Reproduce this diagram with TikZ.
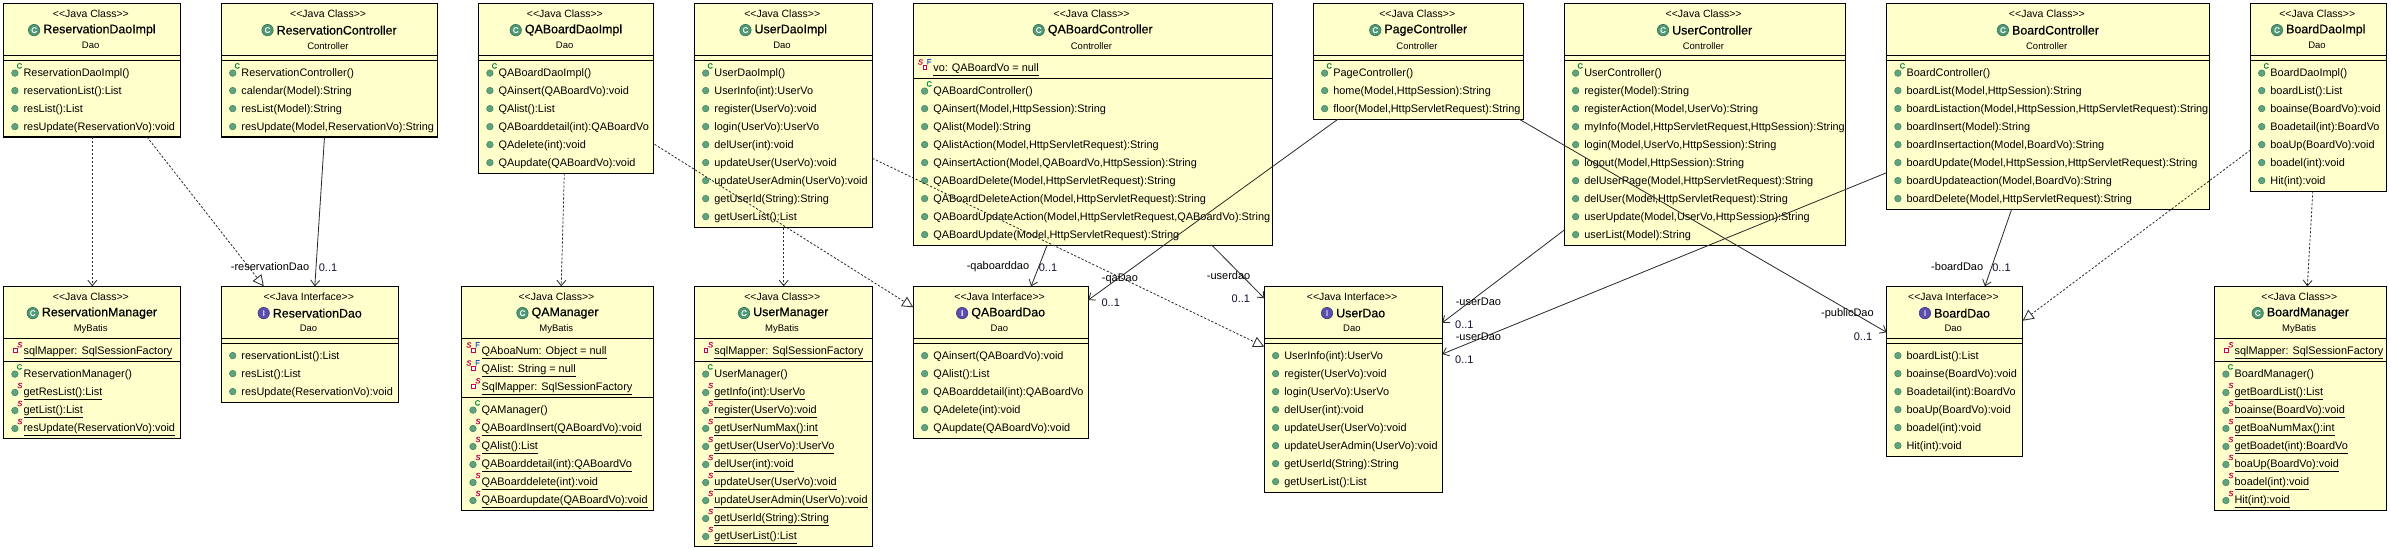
\documentclass[tikz,border=0pt]{standalone}
\usepackage{fontspec}
\setmainfont{Liberation Sans}
\newfontfamily\titlefont[FakeBold=0.6]{Liberation Sans}
\newfontfamily\markfont[FakeBold=0.5]{Liberation Sans}
\usetikzlibrary{arrows.meta}
\definecolor{boxfill}{HTML}{FFFFCC}
\definecolor{dotgreen}{HTML}{5FA37F}
\definecolor{dotedge}{HTML}{3F7F60}
\definecolor{crim}{HTML}{C8004B}
\definecolor{consgreen}{HTML}{00803C}
\definecolor{finalblue}{HTML}{2050C0}
\definecolor{iconc}{HTML}{4F9A76}
\definecolor{iconi}{HTML}{5A4FB0}
\definecolor{mult}{HTML}{101030}
\definecolor{cnnline}{HTML}{282828}
\tikzset{
  umlbox/.style={draw=black,line width=1.1pt,fill=boxfill,inner sep=0pt,outer sep=0pt,anchor=north west},
  sepline/.style={draw=black,line width=1.1pt},
  stereotxt/.style={font=\fontsize{10.5}{12}\selectfont,inner sep=0pt},
  pkgtxt/.style={font=\fontsize{9.5}{11}\selectfont,inner sep=0pt},
  titletxt/.style={font=\fontsize{12.4}{14}\titlefont,inner sep=0pt},
  rowtxt/.style={font=\fontsize{10.9}{13}\selectfont,inner sep=0pt,anchor=base west},
  marktxt/.style={font=\fontsize{7.5}{8}\markfont\itshape,inner sep=0pt},
  cnntxt/.style={font=\fontsize{11}{13}\selectfont,inner sep=0pt},
  multtxt/.style={cnntxt,text=mult},
  dep/.style={draw=cnnline,line width=0.8pt,dash pattern=on 2.2pt off 1.8pt,-{Straight Barb[length=5.5pt,width=9pt]}},
  real/.style={draw=cnnline,line width=0.8pt,dash pattern=on 2.2pt off 1.8pt,-{Triangle[fill=white,length=11pt,width=11pt]}},
  assoc/.style={draw=cnnline,line width=0.8pt,-{Straight Barb[length=5.5pt,width=9pt]}}
}
\newcount\rowno
\newcommand\ulbox[1]{\setbox0=\hbox{#1}\rlap{\rule[-4.5pt]{\wd0}{0.9pt}}\box0}
% id, left, top, right, bottom, stereotype, C|I, title, package
\newcommand\umlclass[9]{%
  \def\curx{#2}\def\curt{#3}\def\curr{#4}\def\curb{#5}\def\curid{#1}%
  \pgfmathsetmacro\curw{#4-#2}\pgfmathsetmacro\curh{#5-#3}%
  \pgfmathsetmacro\curc{(#2+#4)/2}%
  \node[umlbox,minimum width=\curw pt,minimum height=\curh pt] (#1) at (#2,#3) {};
  \node[stereotxt,name=#1-st] at (\curc-1.2,#3+10) {<\kern0pt<#6>\kern0pt>};
  \node[titletxt,name=#1-ti] at (\curc+7.4,#3+26.8) {#8};
  \node[pkgtxt,name=#1-pk] at (\curc-1.4,#3+42.4) {#9};
  \ifx#7C
    \fill[iconc,draw=iconc!70!black,line width=0.6pt] ([xshift=-9pt]#1-ti.west) circle [radius=5.7pt];
    \node[font=\fontsize{8}{9}\titlefont,text=white,inner sep=0pt,name=#1-ic] at ([xshift=-9pt]#1-ti.west) {C};
  \else
    \fill[iconi,draw=iconi!70!black,line width=0.6pt] ([xshift=-9pt]#1-ti.west) circle [radius=5.7pt];
    \node[font=\fontsize{8}{9}\titlefont,text=white,inner sep=0pt,name=#1-ic] at ([xshift=-9pt]#1-ti.west) {I};
  \fi
}
\newcommand\seps[2]{%
  \draw[sepline] (\curx,#1) -- (\curr,#1);
  \draw[sepline] (\curx,#2) -- (\curr,#2);
}
\newcommand\rowsat[1]{\xdef\cury{#1}}
\newcommand\nextrow{\pgfmathsetmacro\tmpy{\cury+18}\xdef\cury{\tmpy}\global\advance\rowno by 1 }
\newcommand\rowdot[1]{\fill[dotgreen,draw=dotedge,line width=0.5pt] (\curx+11.3,\cury+#1) circle [radius=3.3pt];}
\newcommand\rowtext[1]{\node[rowtxt,name=r\the\rowno] at (\curx+19.8,\cury+3.7) {#1};}
\newcommand\Mm[1]{\rowdot{0.3}\rowtext{#1}\nextrow}
\newcommand\Mc[1]{\rowdot{0.8}\rowtext{#1}\node[marktxt,text=consgreen,name=c\the\rowno] at (\curx+15.8,\cury-6.4) {\upshape C};\nextrow}
\newcommand\Ms[1]{\rowdot{1.2}\rowtext{\ulbox{#1}}\node[marktxt,text=crim,name=c\the\rowno] at (\curx+16.2,\cury-5.8) {S};\nextrow}
\newcommand\attrsq{\draw[crim,fill=white,line width=0.9pt] (\curx+10,\cury-1.7) rectangle (\curx+13.4,\cury+1.7);}
\newcommand\Ma[1]{\attrsq\rowtext{\ulbox{#1}}\node[marktxt,text=crim,name=c\the\rowno] at (\curx+16.2,\cury-5.5) {S};\nextrow}
\newcommand\Mf[1]{\attrsq\rowtext{\ulbox{#1}}\node[marktxt,text=crim,name=c\the\rowno] at (\curx+7.1,\cury-5.3) {S};\node[marktxt,text=finalblue,name=d\the\rowno] at (\curx+15.8,\cury-5.5) {\upshape F};\nextrow}
\begin{document}
\begin{tikzpicture}[x=1pt,y=-1pt]
\useasboundingbox (0,0) rectangle (2390,550);
\fill[white] (0,0) rectangle (2390,550);

% ---------- upper row
\umlclass{rdi}{3.6}{3.3}{180.6}{137}{Java Class}{C}{ReservationDaoImpl}{Dao}
\seps{55.5}{60.5}\rowsat{72.3}
\Mc{ReservationDaoImpl()}\Mm{reservationList():List}\Mm{resList():List}\Mm{resUpdate(ReservationVo):void}

\umlclass{rc}{221.4}{3.3}{437.2}{137}{Java Class}{C}{ReservationController}{Controller}
\seps{55.5}{60.5}\rowsat{72.3}
\Mc{ReservationController()}\Mm{calendar(Model):String}\Mm{resList(Model):String}\Mm{resUpdate(Model,ReservationVo):String}

\umlclass{qdi}{478.6}{3.3}{653.6}{173.5}{Java Class}{C}{QABoardDaoImpl}{Dao}
\seps{55.5}{60.5}\rowsat{72.3}
\Mc{QABoardDaoImpl()}\Mm{QAinsert(QABoardVo):void}\Mm{QAlist():List}\Mm{QABoarddetail(int):QABoardVo}\Mm{QAdelete(int):void}\Mm{QAupdate(QABoardVo):void}

\umlclass{udi}{694.4}{3.3}{872.4}{227.5}{Java Class}{C}{UserDaoImpl}{Dao}
\seps{55.5}{60.5}\rowsat{72.3}
\Mc{UserDaoImpl()}\Mm{UserInfo(int):UserVo}\Mm{register(UserVo):void}\Mm{login(UserVo):UserVo}\Mm{delUser(int):void}\Mm{updateUser(UserVo):void}\Mm{updateUserAdmin(UserVo):void}\Mm{getUserId(String):String}\Mm{getUserList():List}

\umlclass{qc}{913.3}{3.3}{1272.4}{245.5}{Java Class}{C}{QABoardController}{Controller}
\seps{55.5}{78.5}\rowsat{67.3}
\Mf{vo: QABoardVo = null}
\rowsat{90.3}
\Mc{QABoardController()}\Mm{QAinsert(Model,HttpSession):String}\Mm{QAlist(Model):String}\Mm{QAlistAction(Model,HttpServletRequest):String}\Mm{QAinsertAction(Model,QABoardVo,HttpSession):String}\Mm{QABoardDelete(Model,HttpServletRequest):String}\Mm{QABoardDeleteAction(Model,HttpServletRequest):String}\Mm{QABoardUpdateAction(Model,HttpServletRequest,QABoardVo):String}\Mm{QABoardUpdate(Model,HttpServletRequest):String}

\umlclass{pc}{1313.3}{3.3}{1523.5}{119.3}{Java Class}{C}{PageController}{Controller}
\seps{55.5}{60.5}\rowsat{72.3}
\Mc{PageController()}\Mm{home(Model,HttpSession):String}\Mm{floor(Model,HttpServletRequest):String}

\umlclass{uc}{1564.3}{3.3}{1845.3}{245.5}{Java Class}{C}{UserController}{Controller}
\seps{55.5}{60.5}\rowsat{72.3}
\Mc{UserController()}\Mm{register(Model):String}\Mm{registerAction(Model,UserVo):String}\Mm{myInfo(Model,HttpServletRequest,HttpSession):String}\Mm{login(Model,UserVo,HttpSession):String}\Mm{logout(Model,HttpSession):String}\Mm{delUserPage(Model,HttpServletRequest):String}\Mm{delUser(Model,HttpServletRequest):String}\Mm{userUpdate(Model,UserVo,HttpSession):String}\Mm{userList(Model):String}

\umlclass{bc}{1886.6}{3.3}{2209.6}{209.3}{Java Class}{C}{BoardController}{Controller}
\seps{55.5}{60.5}\rowsat{72.3}
\Mc{BoardController()}\Mm{boardList(Model,HttpSession):String}\Mm{boardListaction(Model,HttpSession,HttpServletRequest):String}\Mm{boardInsert(Model):String}\Mm{boardInsertaction(Model,BoardVo):String}\Mm{boardUpdate(Model,HttpSession,HttpServletRequest):String}\Mm{boardUpdateaction(Model,BoardVo):String}\Mm{boardDelete(Model,HttpServletRequest):String}

\umlclass{bdi}{2250.4}{3.3}{2386.4}{191.3}{Java Class}{C}{BoardDaoImpl}{Dao}
\seps{55.5}{60.5}\rowsat{72.3}
\Mc{BoardDaoImpl()}\Mm{boardList():List}\Mm{boainse(BoardVo):void}\Mm{Boadetail(int):BoardVo}\Mm{boaUp(BoardVo):void}\Mm{boadel(int):void}\Mm{Hit(int):void}

% ---------- lower row
\umlclass{rm}{3.6}{286.3}{180.6}{438.3}{Java Class}{C}{ReservationManager}{MyBatis}
\seps{338.3}{361.3}\rowsat{350.3}
\Ma{sqlMapper: SqlSessionFactory}
\rowsat{373.3}
\Mc{ReservationManager()}\Ms{getResList():List}\Ms{getList():List}\Ms{resUpdate(ReservationVo):void}

\umlclass{rd}{221.4}{286.3}{398.5}{402.3}{Java Interface}{I}{ReservationDao}{Dao}
\seps{338.3}{343.3}\rowsat{355.3}
\Mm{reservationList():List}\Mm{resList():List}\Mm{resUpdate(ReservationVo):void}

\umlclass{qm}{461.7}{286.3}{653.6}{510.3}{Java Class}{C}{QAManager}{MyBatis}
\seps{338.3}{397.3}\rowsat{350.3}
\Mf{QAboaNum: Object = null}\Mf{QAlist: String = null}\Ma{SqlMapper: SqlSessionFactory}
\rowsat{409.3}
\Mc{QAManager()}\Ms{QABoardInsert(QABoardVo):void}\Ms{QAlist():List}\Ms{QABoarddetail(int):QABoardVo}\Ms{QABoarddelete(int):void}\Ms{QABoardupdate(QABoardVo):void}

\umlclass{um}{694.4}{286.3}{872.4}{546.3}{Java Class}{C}{UserManager}{MyBatis}
\seps{338.3}{361.3}\rowsat{350.3}
\Ma{sqlMapper: SqlSessionFactory}
\rowsat{373.3}
\Mc{UserManager()}\Ms{getInfo(int):UserVo}\Ms{register(UserVo):void}\Ms{getUserNumMax():int}\Ms{getUser(UserVo):UserVo}\Ms{delUser(int):void}\Ms{updateUser(UserVo):void}\Ms{updateUserAdmin(UserVo):void}\Ms{getUserId(String):String}\Ms{getUserList():List}

\umlclass{qd}{913.3}{286.3}{1088.3}{438.3}{Java Interface}{I}{QABoardDao}{Dao}
\seps{338.3}{343.3}\rowsat{355.3}
\Mm{QAinsert(QABoardVo):void}\Mm{QAlist():List}\Mm{QABoarddetail(int):QABoardVo}\Mm{QAdelete(int):void}\Mm{QAupdate(QABoardVo):void}

\umlclass{ud}{1264.3}{286.3}{1442.3}{492.3}{Java Interface}{I}{UserDao}{Dao}
\seps{338.3}{343.3}\rowsat{355.3}
\Mm{UserInfo(int):UserVo}\Mm{register(UserVo):void}\Mm{login(UserVo):UserVo}\Mm{delUser(int):void}\Mm{updateUser(UserVo):void}\Mm{updateUserAdmin(UserVo):void}\Mm{getUserId(String):String}\Mm{getUserList():List}

\umlclass{bd}{1886.6}{286.3}{2022.7}{456.3}{Java Interface}{I}{BoardDao}{Dao}
\seps{338.3}{343.3}\rowsat{355.3}
\Mm{boardList():List}\Mm{boainse(BoardVo):void}\Mm{Boadetail(int):BoardVo}\Mm{boaUp(BoardVo):void}\Mm{boadel(int):void}\Mm{Hit(int):void}

\umlclass{bm}{2214.6}{286.3}{2386.4}{510.3}{Java Class}{C}{BoardManager}{MyBatis}
\seps{338.3}{361.3}\rowsat{350.3}
\Ma{sqlMapper: SqlSessionFactory}
\rowsat{373.3}
\Mc{BoardManager()}\Ms{getBoardList():List}\Ms{boainse(BoardVo):void}\Ms{getBoaNumMax():int}\Ms{getBoadet(int):BoardVo}\Ms{boaUp(BoardVo):void}\Ms{boadel(int):void}\Ms{Hit(int):void}

% ---------- connectors (offsets measured from box corners)
\draw[dep] ([xshift=88.7pt]rdi.south west) -- ([xshift=88.7pt]rm.north west);
\draw[real] ([xshift=143.4pt]rdi.south west) -- ([xshift=42.4pt]rd.north west);
\draw[assoc] ([xshift=103.1pt]rc.south west) -- ([xshift=93.4pt]rd.north west);
\draw[dep] ([xshift=85.7pt]qdi.south west) -- ([xshift=99.5pt]qm.north west);
\draw[real] ([xshift=1pt,yshift=29.2pt]qdi.south east) -- ([yshift=-21pt]qd.north west);
\draw[dep] ([xshift=89.3pt]udi.south west) -- ([xshift=89.3pt]um.north west);
\draw[real] ([yshift=69.2pt]udi.south east) -- ([yshift=-60.4pt]ud.north west);
\draw[assoc] ([xshift=133.7pt]qc.south west) -- ([xshift=117.8pt]qd.north west);
\draw[assoc] ([xshift=24.5pt]pc.south west) -- ([yshift=-13.7pt]qd.north east);
\draw[assoc] ([xshift=298.9pt]qc.south west) -- ([yshift=-12pt]ud.north west);
\draw[assoc] ([yshift=15.5pt]uc.south west) -- ([yshift=-36.4pt]ud.north east);
\draw[assoc] ([yshift=36.6pt]bc.south west) -- ([yshift=-67.7pt]ud.north east);
\draw[assoc] ([xshift=206.1pt]pc.south west) -- ([yshift=-46pt]bd.north west);
\draw[assoc] ([xshift=125pt]bc.south west) -- ([xshift=98.3pt]bd.north west);
\draw[real] ([yshift=41.3pt]bdi.south west) -- ([yshift=-34.4pt]bd.north east);
\draw[dep] ([xshift=62.4pt]bdi.south west) -- ([xshift=92.7pt]bm.north west);

% ---------- connector labels
\node[cnntxt,name=l1] at (270,266.7) {-reservationDao};
\node[multtxt,name=m1] at (328,267.3) {0..1};
\node[cnntxt,name=l2] at (998,266.7) {-qaboarddao};
\node[multtxt,name=m2] at (1048,267.3) {0..1};
\node[cnntxt,name=l3] at (1119.9,279.3) {-qaDao};
\node[multtxt,name=m3] at (1110.7,302.3) {0..1};
\node[cnntxt,name=l4] at (1228.6,276) {-userdao};
\node[multtxt,name=m4] at (1240.8,298.3) {0..1};
\node[cnntxt,name=l5] at (1478.4,301.7) {-userDao};
\node[multtxt,name=m5] at (1464.3,324.3) {0..1};
\node[cnntxt,name=l6] at (1478.4,336.7) {-userDao};
\node[multtxt,name=m6] at (1464.3,359.3) {0..1};
\node[cnntxt,name=l7] at (1847.4,313.7) {-publicDao};
\node[multtxt,name=m7] at (1863,336.3) {0..1};
\node[cnntxt,name=l8] at (1957.2,266.7) {-boardDao};
\node[multtxt,name=m8] at (2001.5,267.3) {0..1};
\end{tikzpicture}
\end{document}
